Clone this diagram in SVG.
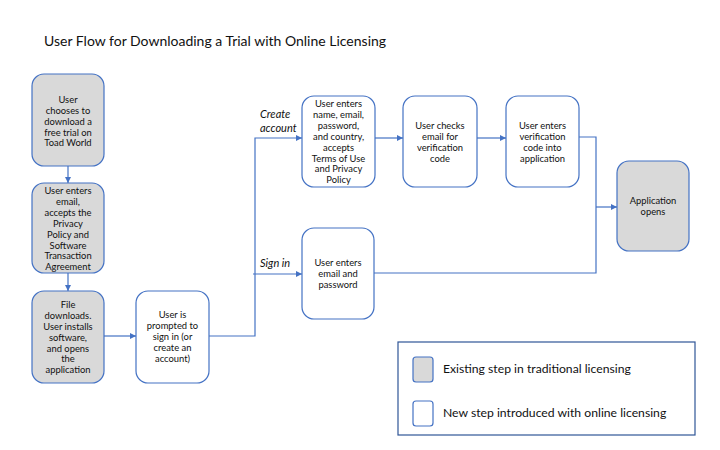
<svg xmlns="http://www.w3.org/2000/svg" width="720" height="450" viewBox="0 0 720 450">
<style>
.node{stroke:#4472C4;stroke-width:1.2}
.old{fill:#D9D9D9}
.new{fill:#FFFFFF}
.t{font-family:Lato,"Liberation Sans",sans-serif;font-size:9.4px;fill:#111;text-anchor:middle}
.lbl{font-family:Lato,"Liberation Sans",sans-serif;font-size:11px;font-style:italic;fill:#111}
.leg{font-family:Lato,"Liberation Sans",sans-serif;font-size:12.2px;fill:#111}
.title{font-family:Lato,"Liberation Sans",sans-serif;font-size:14px;fill:#111}
.c{fill:none;stroke:#4472C4;stroke-width:1.2}
</style>
<defs>
<marker id="arr" markerWidth="6" markerHeight="6" refX="6" refY="3" orient="auto" markerUnits="userSpaceOnUse">
<path d="M0,0 L6,3 L0,6 Z" fill="#4472C4"/>
</marker>
</defs>
<rect width="720" height="450" fill="#FFFFFF"/>
<text class="title" x="44" y="46">User Flow for Downloading a Trial with Online Licensing</text>

<g id="connectors">
<path class="c" d="M68,166 V183" marker-end="url(#arr)"/>
<path class="c" d="M68,273 V291" marker-end="url(#arr)"/>
<path class="c" d="M104,336 H136" marker-end="url(#arr)"/>
<path class="c" d="M209,336 H255 V138 H302" marker-end="url(#arr)"/>
<path class="c" d="M253,274 H302" marker-end="url(#arr)"/>
<path class="c" d="M375,138 H403" marker-end="url(#arr)"/>
<path class="c" d="M477,138 H506" marker-end="url(#arr)"/>
<path class="c" d="M579,137 H596 V273 H374"/>
<path class="c" d="M596,207 H617" marker-end="url(#arr)"/>
<text class="lbl" x="260" y="118">Create</text>
<text class="lbl" x="260" y="132">account</text>
<text class="lbl" x="260" y="267">Sign in</text>
</g>

<g id="n1">
<rect class="node old" x="32" y="74" width="72" height="92" rx="12"/>
<text class="t" x="68" y="103">User</text>
<text class="t" x="68" y="114">chooses to</text>
<text class="t" x="68" y="124.5">download a</text>
<text class="t" x="68" y="135.5">free trial on</text>
<text class="t" x="68" y="146">Toad World</text>
</g>

<g id="n2">
<rect class="node old" x="32" y="183" width="72" height="90" rx="12"/>
<text class="t" x="68" y="194">User enters</text>
<text class="t" x="68" y="205">email,</text>
<text class="t" x="68" y="216">accepts the</text>
<text class="t" x="68" y="227">Privacy</text>
<text class="t" x="68" y="237.5">Policy and</text>
<text class="t" x="68" y="248.5">Software</text>
<text class="t" x="68" y="259">Transaction</text>
<text class="t" x="68" y="269.5">Agreement</text>
</g>

<g id="n3">
<rect class="node old" x="32" y="291" width="72" height="92" rx="12"/>
<text class="t" x="68" y="308">File</text>
<text class="t" x="68" y="319">downloads.</text>
<text class="t" x="68" y="330">User installs</text>
<text class="t" x="68" y="341">software,</text>
<text class="t" x="68" y="351.5">and opens</text>
<text class="t" x="68" y="362">the</text>
<text class="t" x="68" y="372.5">application</text>
</g>

<g id="n4">
<rect class="node new" x="136" y="291" width="73" height="92" rx="12"/>
<text class="t" x="172.5" y="318">User is</text>
<text class="t" x="172.5" y="329">prompted to</text>
<text class="t" x="172.5" y="340">sign in (or</text>
<text class="t" x="172.5" y="351">create an</text>
<text class="t" x="172.5" y="361.5">account)</text>
</g>

<g id="n5">
<rect class="node new" x="302" y="96" width="73" height="91" rx="12"/>
<text class="t" x="338.5" y="107">User enters</text>
<text class="t" x="338.5" y="118">name, email,</text>
<text class="t" x="338.5" y="129">password,</text>
<text class="t" x="338.5" y="140">and country,</text>
<text class="t" x="338.5" y="150.5">accepts</text>
<text class="t" x="338.5" y="161.5">Terms of Use</text>
<text class="t" x="338.5" y="172">and Privacy</text>
<text class="t" x="338.5" y="183">Policy</text>
</g>

<g id="n6">
<rect class="node new" x="403" y="96" width="74" height="91" rx="12"/>
<text class="t" x="440" y="129">User checks</text>
<text class="t" x="440" y="140">email for</text>
<text class="t" x="440" y="151">verification</text>
<text class="t" x="440" y="162">code</text>
</g>

<g id="n7">
<rect class="node new" x="506" y="96" width="73" height="91" rx="12"/>
<text class="t" x="542.5" y="129">User enters</text>
<text class="t" x="542.5" y="140">verification</text>
<text class="t" x="542.5" y="151">code into</text>
<text class="t" x="542.5" y="162">application</text>
</g>

<g id="n8">
<rect class="node old" x="617" y="161" width="72" height="90" rx="12"/>
<text class="t" x="653" y="204">Application</text>
<text class="t" x="653" y="215">opens</text>
</g>

<g id="n9">
<rect class="node new" x="302" y="228" width="72" height="91" rx="12"/>
<text class="t" x="338" y="266">User enters</text>
<text class="t" x="338" y="277">email and</text>
<text class="t" x="338" y="287.5">password</text>
</g>

<g id="legend">
<rect x="398" y="342" width="297" height="93" fill="#FFFFFF" stroke="#2F5597" stroke-width="1.2"/>
<rect class="node old" x="413" y="357" width="20" height="25" rx="3"/>
<rect class="node new" x="413" y="401" width="20" height="25" rx="3"/>
<text class="leg" x="443" y="373">Existing step in traditional licensing</text>
<text class="leg" x="443" y="417">New step introduced with online licensing</text>
</g>
</svg>
